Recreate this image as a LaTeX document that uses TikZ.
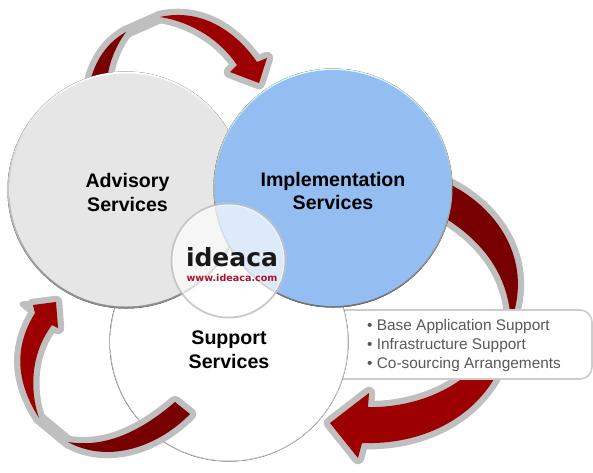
\documentclass[tikz,border=0pt]{standalone}
\usepackage{fontspec}
\setmainfont{Liberation Sans}
\newfontfamily\logofont{DejaVu Sans}
\definecolor{halo}{HTML}{BFBFBF}
\definecolor{reddark}{HTML}{780000}
\definecolor{redfront}{HTML}{9C0000}
\definecolor{listgray}{HTML}{595959}
\definecolor{logored}{HTML}{A8142E}
\pgfdeclareradialshading{advfill}{\pgfpoint{0bp}{0bp}}{rgb(0bp)=(.902,.902,.902); rgb(46bp)=(.902,.902,.902); rgb(49bp)=(.86,.86,.86); rgb(50bp)=(.78,.78,.78)}
\pgfdeclareradialshading{impfill}{\pgfpoint{0bp}{0bp}}{rgb(0bp)=(.58,.745,.945); rgb(47bp)=(.58,.745,.945); rgb(49bp)=(.52,.67,.85); rgb(50bp)=(.45,.55,.68)}
\pgfdeclareradialshading{supfill}{\pgfpoint{0bp}{0bp}}{rgb(0bp)=(1,1,1); rgb(46bp)=(1,1,1); rgb(49bp)=(.95,.95,.95); rgb(50bp)=(.84,.84,.84)}
\tikzset{
  halostroke/.style={draw=halo,line width=12.5pt,line join=round,line cap=round},
  tailred/.style={fill=reddark},
  frontred/.style={fill=redfront},
  rimadv/.style={top color=white,bottom color=gray!90},
  rimimp/.style={top color=cyan!15!white,bottom color=black!55},
  rimsup/.style={left color=gray!60,right color=gray!40},
  title/.style={font=\bfseries\fontsize{19.6}{23.5}\selectfont,align=center,text=black,inner sep=0pt},
  listtext/.style={font=\fontsize{15.4}{19}\selectfont,text=listgray,align=left,anchor=west,inner sep=0pt}
}
\def\armA{(445,182) .. controls (495,205) and (530,255) .. (514,312) -- (510,312) .. controls (505,270) and (480,240) .. (445,218) -- cycle}
\def\armB{(500,368) .. controls (475,420) and (420,445) .. (362,443) -- (358,458) -- (330,423) -- (369,393) -- (368,407) .. controls (405,408) and (445,395) .. (470,372) -- cycle}
\def\armC{(175,402) -- (190,414) .. controls (160,445) and (110,465) .. (68,442) .. controls (105,448) and (140,432) .. (175,402) -- cycle}
\def\armD{(39,418) .. controls (18,385) and (12,350) .. (35,313) -- (33,305) -- (56,302) -- (58,328) -- (52,325) .. controls (33,350) and (28,385) .. (39,418) -- cycle}
\def\armE{(91,78) -- (108,73) .. controls (111,58) and (117,44) .. (126,32) .. controls (108,42) and (97,58) .. (91,78) -- cycle}
\def\armF{(160,17) .. controls (200,8) and (235,30) .. (257,62) -- (267,58) -- (259,83) -- (230,72) -- (237,65) .. controls (220,40) and (192,22) .. (160,17) -- cycle}
\begin{document}
\begin{tikzpicture}[x=1pt,y=-1pt]
\useasboundingbox (0,0) rectangle (593,472);
\fill[white] (0,0) rectangle (593,472);
% right arrow
\path[halostroke] \armA;
\path[tailred] \armA;
\path[halostroke] \armB;
\path[frontred] \armB;
% list box
\draw[draw=black!20,line width=1.6pt,fill=white,rounded corners=12pt] (330,310) rectangle (592,379);
% support circle
\fill[rimsup] (229,342) circle[radius=119.5pt];
\shade[shading=supfill] (229,342) circle[radius=118.5pt];
% left arrow
\path[halostroke] (39,418) -- (68,442);
\path[halostroke] \armC;
\path[tailred] \armC;
\path[halostroke] \armD;
\path[draw=halo,fill=halo,line width=5pt,line join=round] (22,304) -- (40,302) -- (38,318) -- cycle;
\path[frontred] \armD;
% top arrow
\path[halostroke] (126,32) -- (160,17);
\path[halostroke] \armE;
\path[tailred] \armE;
\path[halostroke] \armF;
\path[frontred] \armF;
% advisory circle
\fill[rimadv] (126,190) circle[radius=118.5pt];
\shade[shading=advfill] (126,190) circle[radius=116.5pt];
% implementation circle
\fill[rimimp] (333,188) circle[radius=119.5pt];
\shade[shading=impfill] (333,188) circle[radius=118pt];
% logo circle
\fill[white,opacity=.68] (228.5,260.5) circle[radius=58pt];
\draw[black!45,opacity=.45,line width=2pt] (228.5,260.5) circle[radius=57pt];
\draw[white,opacity=.6,line width=1pt] (228.5,260.5) circle[radius=55.5pt];
% texts
\node[title] (advisory) at (127.5,192.5) {Advisory\\Services};
\node[title] (implementation) at (333,191) {Implementation\\Services};
\node[title] (support) at (229,349.5) {Support\\Services};
\node[listtext] (listbody) at (367,346) {• Base Application Support\\• Infrastructure Support\\• Co-sourcing Arrangements};
\node[inner sep=0pt,font=\logofont\bfseries\fontsize{25}{25}\selectfont,text=black!90] (logoword) at (232,257) {ideaca};
\node[inner sep=0pt,font=\logofont\bfseries\fontsize{9.6}{10}\selectfont,text=logored] (logourl) at (232,277.5) {www.ideaca.com};
\end{tikzpicture}
\end{document}
